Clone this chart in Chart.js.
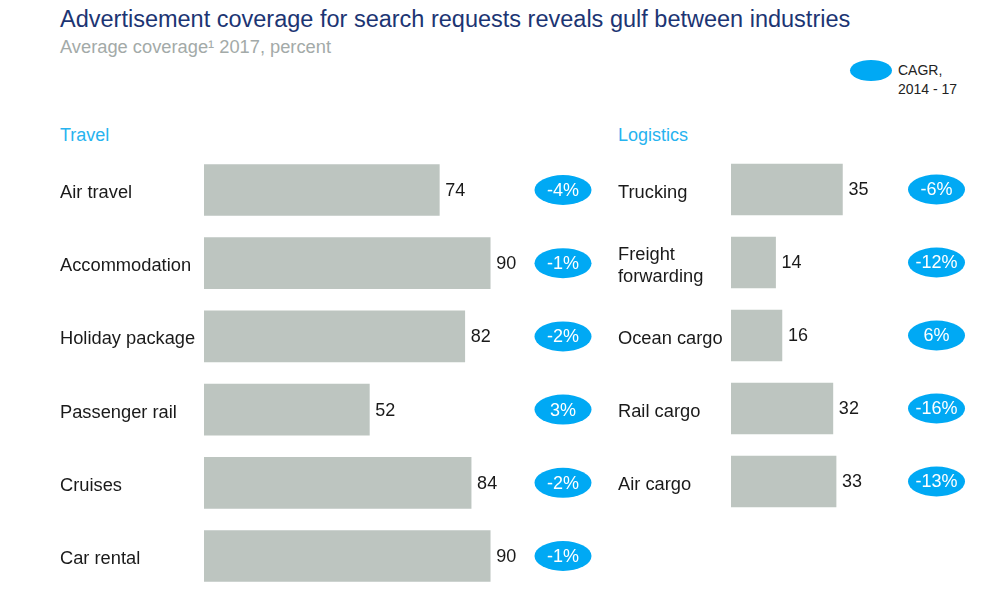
<!DOCTYPE html>
<html><head><meta charset="utf-8">
<script src="https://cdn.jsdelivr.net/npm/chart.js@4"></script>
<style>
body{margin:0;width:999px;height:600px;overflow:hidden;background:#fff;font-family:"Liberation Sans",Arial,sans-serif;position:relative}
.abs{position:absolute;white-space:nowrap;line-height:1}
#title{left:60px;top:8px;font-size:23.5px;color:#1c3573}
#sub{left:60px;top:38px;font-size:18.3px;color:#a3aaa8}
.hdr{font-size:18px;color:#27b3ef;top:126px}
#leg{position:absolute;left:850px;top:60px;width:42px;height:21px;border-radius:50%;background:#00a9f4}
#legt{left:898px;top:61px;font-size:14px;line-height:19px;color:#222}
canvas{position:absolute;top:0}
</style></head><body>
<div id="title" class="abs">Advertisement coverage for search requests reveals gulf between industries</div>
<div id="sub" class="abs">Average coverage¹ 2017, percent</div>
<div id="leg"></div>
<div id="legt" class="abs">CAGR,<br>2014 - 17</div>
<div class="abs hdr" style="left:60px">Travel</div>
<div class="abs hdr" style="left:618px">Logistics</div>
<canvas id="c1" width="600" height="620" style="left:0"></canvas>
<canvas id="c2" width="441" height="600" style="left:558px"></canvas>
<script>
const travelCategories = ['Air travel', 'Accommodation', 'Holiday package', 'Passenger rail', 'Cruises', 'Car rental'];
const travelValues = [74, 90, 82, 52, 84, 90];
const travelCagr = [-4, -1, -2, 3, -2, -1];

const logisticsCategories = ['Trucking', ['Freight', 'forwarding'], 'Ocean cargo', 'Rail cargo', 'Air cargo'];
const logisticsValues = [35, 14, 16, 32, 33];
const logisticsCagr = [-6, -12, 6, -16, -13];

const FONT = '"Liberation Sans", Arial, sans-serif';

const labelPlugin = {
  id: 'labels',
  afterDatasetsDraw(chart, args, opts) {
    const ctx = chart.ctx;
    const meta = chart.getDatasetMeta(0);
    const data = chart.data.datasets[0].data;
    ctx.save();
    meta.data.forEach((bar, i) => {
      ctx.font = '18px ' + FONT;
      ctx.fillStyle = '#1a1a1a';
      ctx.textAlign = 'left';
      ctx.textBaseline = 'middle';
      ctx.fillText(String(data[i]), bar.x + 6, bar.y + 1);
      const cx = opts.cx, cy = bar.y;
      ctx.beginPath();
      ctx.ellipse(cx, cy, 28.5, 15, 0, 0, Math.PI * 2);
      ctx.fillStyle = '#00a9f4';
      ctx.fill();
      const v = opts.cagr[i];
      ctx.font = '18px ' + FONT;
      ctx.fillStyle = '#ffffff';
      ctx.textAlign = 'center';
      ctx.fillText((v > 0 ? '' : '-') + Math.abs(v) + '%', cx, cy + 1);
    });
    ctx.restore();
  }
};

function makeChart(id, cats, vals, cagr, max, pad, axisW, cx) {
  return new Chart(document.getElementById(id), {
    type: 'bar',
    data: { labels: cats, datasets: [{ data: vals, backgroundColor: '#bdc5c0', borderWidth: 0, barThickness: 51 }] },
    options: {
      indexAxis: 'y',
      responsive: false,
      animation: false,
      layout: { padding: pad },
      plugins: { legend: { display: false }, tooltip: { enabled: false }, labels: { cx: cx, cagr: cagr } },
      scales: {
        x: { display: false, min: 0, max: max },
        y: {
          grid: { display: false }, border: { display: false },
          ticks: { crossAlign: 'far', labelOffset: 3, color: '#1a1a1a', font: { size: 18.3, family: FONT, lineHeight: 1.2 } },
          afterFit(s) { s.width = axisW; }
        }
      }
    },
    plugins: [labelPlugin]
  });
}

makeChart('c1', travelCategories, travelValues, travelCagr, 100,
  { left: 60, right: 78, top: 153.4, bottom: 27.4 }, 144, 563);
makeChart('c2', logisticsCategories, logisticsValues, logisticsCagr, 60,
  { left: 60, right: 77, top: 153, bottom: 82 }, 113, 936.5 - 558);
</script>
</body></html>
